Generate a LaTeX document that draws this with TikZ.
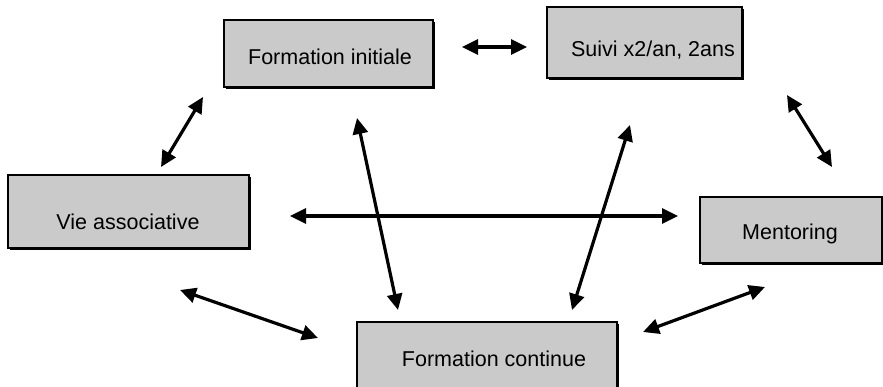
\documentclass[tikz,border=0pt]{standalone}
\usepackage{fontspec}
\setmainfont{Liberation Sans}
\usetikzlibrary{arrows.meta,shadows}
\definecolor{boxgray}{RGB}{202,202,202}
\begin{document}
\begin{tikzpicture}[x=1pt,y=-1pt,
  boxstyle/.style={draw=black, line width=1.2pt, fill=boxgray, inner sep=0pt,
    drop shadow={shadow xshift=2pt, shadow yshift=-2pt, fill=black, opacity=1}},
  lbl/.style={font=\fontsize{21.5}{25}\selectfont, inner sep=0pt, anchor=base},
  link/.style={line width=3.2pt, {Triangle[length=16pt,width=15pt]}-{Triangle[length=16pt,width=15pt]}}]
\useasboundingbox (0,0) rectangle (883,387);
\clip (0,0) rectangle (883,387);
% boxes
\node[boxstyle, minimum width=209pt, minimum height=67pt] (fi) at (328.5,53.5) {};
\node[lbl] (fit) at (330,65) {Formation initiale};
\node[boxstyle, minimum width=195pt, minimum height=71pt] (su) at (644.5,42.5) {};
\node[lbl] (sut) at (653,57) {Suivi x2/an, 2ans};
\node[boxstyle, minimum width=241pt, minimum height=73pt] (va) at (128.5,211.5) {};
\node[lbl] (vat) at (128,230) {Vie associative};
\node[boxstyle, minimum width=182pt, minimum height=66pt] (me) at (791,230) {};
\node[lbl] (met) at (790,240) {Mentoring};
\node[boxstyle, minimum width=260pt, minimum height=80pt] (fc) at (487,362) {};
\node[lbl] (fct) at (494,366) {Formation continue};
% arrow ends
\coordinate (fiR) at (462,47);   \coordinate (suL) at (527,47);
\coordinate (fiL) at (203,97);   \coordinate (vaT) at (161,167);
\coordinate (suR) at (787,95);   \coordinate (meT) at (832,167);
\coordinate (vaR) at (290,216);  \coordinate (meL) at (678,216);
\coordinate (fiB) at (357,118);  \coordinate (fcA) at (398,310);
\coordinate (suB) at (630,125);  \coordinate (fcB) at (572,310);
\coordinate (vaB) at (180,290);  \coordinate (fcL) at (318,338);
\coordinate (meB) at (765,287);  \coordinate (fcR) at (643,332);
% arrows
\draw[link] (fiR) -- (suL);
\draw[link] (fiL) -- (vaT);
\draw[link] (suR) -- (meT);
\draw[link] (vaR) -- (meL);
\draw[link] (fiB) -- (fcA);
\draw[link] (suB) -- (fcB);
\draw[link] (vaB) -- (fcL);
\draw[link] (meB) -- (fcR);
\end{tikzpicture}
\end{document}
